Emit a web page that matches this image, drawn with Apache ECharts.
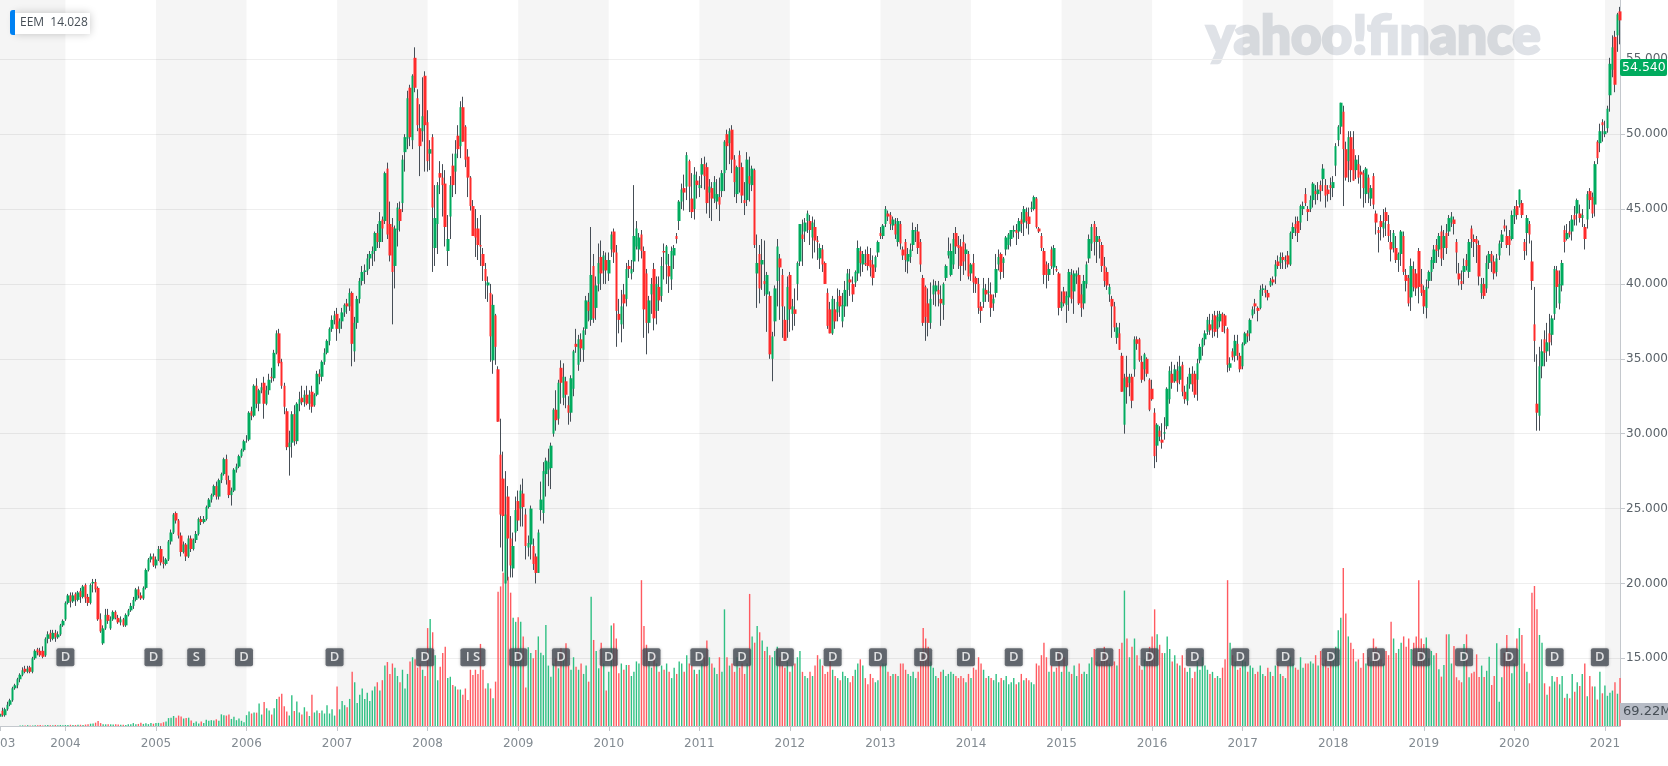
<!DOCTYPE html>
<html><head><meta charset="utf-8">
<style>html,body{margin:0;padding:0;background:#fff}#c{width:1668px;height:766px}</style>
<script src="https://cdn.jsdelivr.net/npm/echarts@6/dist/echarts.min.js"></script>
</head><body><div id="c"></div>
<script>
// rows: [open, high, low, close, volume in millions]
const y2003=[
[11.1,11.5,11,11.3,0],[11.5,11.7,11.1,11.2,0],[11.2,11.7,11.1,11.6,0],[11.6,12.1,11.5,11.9,0],[11.9,12.3,11.8,12.2,0],[12.2,13.1,12.1,13,0],
[13,13.3,12.9,13.2,0],[13.2,13.7,13,13.6,0],[13.6,14,13.4,13.9,3],[13.9,14.4,13.8,14.2,3],[14.3,14.5,14,14.1,3],[14.1,14.5,14,14.3,4],
[14.4,14.5,14,14.1,3],[14.1,15.1,14,15,3],[15,15.6,14.9,15.5,4],[15.6,15.7,15.2,15.4,4],[15.5,15.7,15.1,15.2,5],[15.5,15.8,15,15.1,3],
[15.2,16.4,15.1,16.3,4],[16.3,16.8,16,16.6,5],[16.7,16.9,16.1,16.3,4],[16.3,16.9,16.2,16.7,4],[16.7,16.9,16.1,16.4,5],[16.4,16.8,16.3,16.6,4],
[16.6,17.3,16.5,17.2,5],[17.2,17.6,17.1,17.5,4]];
const y2004=[
[17.6,18.8,17.5,18.7,5],[18.7,19.3,18.6,19.2,5],[19.2,19.4,18.4,18.8,6],[18.8,19.4,18.7,19.2,5],[19.3,19.4,18.5,18.9,5],[18.9,19.5,18.8,19.4,6],
[19.5,19.7,18.7,19.1,6],[19.1,19.9,19,19.8,5],[19.9,20,18.7,19,7],[19.1,19.3,18.5,18.7,8],[18.7,20,18.6,19.9,11],[20,20.3,19.4,20.1,12],
[20.1,20.3,19.4,19.6,16],[19.7,19.8,17.5,17.6,24],[17.6,18,16.7,16.8,14],[16,17.2,15.9,17,9],[17,18.3,16.9,17.9,8],[17.9,18.3,17.3,17.5,9],
[17,17.8,16.9,17.6,8],[17.6,18.2,17.5,18.1,7],[18.1,18.2,17.6,17.7,9],[17.7,17.9,17.3,17.4,7],[17.4,17.8,17.2,17.6,6],[17.6,17.7,17.1,17.2,6],
[17.2,18,17.1,17.9,5],[17.9,18.3,17.8,18.2,8],[18.2,18.7,18.1,18.5,9],[18.5,19.1,18.3,18.9,14],[18.9,19.7,18.8,19.6,8],[19.6,19.8,19,19.2,10],
[19.2,19.4,18.9,19,16],[19,19.8,18.9,19.7,10],[19.7,21,19.6,20.9,13],[20.9,21.7,20.8,21.6,9],[21.6,22,21.4,21.8,14],[21.8,22,21.1,21.2,11]];
const y2005=[
[21.2,21.8,21,21.6,14],[21.6,22.5,21.5,22.3,15],[22.3,22.5,21.2,21.4,13],[21.4,21.8,21,21.3,18],[21.3,21.7,21.2,21.6,22],[21.6,22.9,21.5,22.8,38],
[22.8,23.6,22.6,23.4,40],[23.4,24.7,23.3,24.6,48],[24.7,24.8,24,24.2,40],[24.2,24.3,23,23.2,50],[23.2,23.4,21.8,22.1,46],[22.1,22.8,22,22.6,36],
[22.6,22.7,21.5,21.8,38],[21.8,23.2,21.7,23,40],[23,23.2,22.1,22.3,26],[22.3,23,22.2,22.9,15],[22.9,23.5,22.7,23.3,22],[23.3,24.4,23.2,24.3,12],
[24.3,24.5,23.9,24.1,22],[24.1,24.5,24,24.3,14],[24.3,25.2,24.2,25.1,30],[25.1,25.7,25,25.6,25],[25.6,26,25.4,25.9,28],[25.9,26.6,25.8,26.5,26],
[26.5,26.8,25.6,25.8,32],[25.8,27,25.6,26.9,25],[26.9,27.4,26.7,27.3,56],[27.3,28.4,27.2,28.3,52],[28.3,28.6,26.6,26.9,50],[26.9,27.2,25.7,25.9,55],
[25.9,26.4,25.2,26.2,34],[26.2,27.7,26.1,27.6,44],[27.6,28,27.4,27.8,28],[27.8,28.6,27.7,28.5,36],[28.5,29,28.4,28.9,25],[28.9,29.6,28.8,29.5,18]];
const y2006=[
[29.6,29.9,29.4,29.6,52],[29.6,31.5,29.5,31.4,70],[31.5,31.8,30.9,31.2,60],[31.2,33.3,31.1,33.2,65],[33.2,33.7,31.7,32,64],[32,33,31.5,32.9,108],
[32.9,33.4,32.7,33.1,55],[33.4,33.8,31,32,115],[32,33.2,31.9,32.9,85],[32.9,34,32.6,33.6,75],[33.8,34.4,33.4,33.7,55],[33.7,35.6,33.5,35.4,85],
[35.4,36.9,35.3,36.7,130],[36.7,37,34.5,34.7,140],[34.8,35,33,33.2,155],[33.2,33.4,31.3,31.8,95],[31.5,31.7,28.9,29.1,70],[29.1,30.2,27.2,29.4,50],
[29.4,31.5,28.4,31.3,148],[31.3,31.9,29.2,29.5,72],[29.5,32.1,29.3,32,118],[32,32.8,31.5,32.3,65],[32.4,33.2,31.9,32.1,55],[32.1,32.9,31.8,32.6,90],
[32.6,33.2,31.9,32,70],[32,32.9,31.6,32.6,48],[32.8,33.2,31.4,31.8,150],[31.9,32.7,31.8,32.6,65],[32.6,34.2,32.5,34,75],[34,34.3,33.3,33.8,62],
[33.8,34.9,33.5,34.8,75],[34.8,35.7,34.6,35.4,60],[35.4,36.3,35.3,36.2,100],[36.2,37.1,35.9,37,60],[37,37.9,36.8,37.6,80],[37.6,38.2,37.3,37.9,50]];
const y2007=[
[38,38.4,36.2,37,190],[37,37.7,36.7,37.5,80],[37.5,38.4,37,38.1,120],[38.1,38.7,37.8,38.6,100],[38.7,39,38,38.5,90],[38.5,39.7,38.2,39.4,130],
[39.4,39.5,34.5,36,260],[35.5,37.8,34.8,37.4,210],[37.4,39.2,37,39,110],[39,40.4,38.7,40.2,150],[40.2,41.2,39.9,40.8,180],[40.8,41.3,40,40.9,130],
[40.9,42,40.6,41.7,160],[41.7,42.2,41,42,120],[42,42.5,41.2,42.2,170],[42.2,43.5,41.5,43.4,190],[43.4,44,42.4,42.8,210],[42.8,44.8,42.4,44.2,170],
[44.3,44.5,42.8,43.7,220],[44.2,47.5,44,47.4,290],[47.7,48.1,43,43.3,307],[44,45.5,41.5,41.9,250],[43.8,44.4,37.3,40.8,300],[41.2,43.9,39.7,43.7,280],
[43.6,45.4,42.5,45.1,240],[45,45.5,43.5,44.2,210],[45.4,48.6,44.8,48.3,270],[48.8,50,47.5,49.8,180],[49.7,52.9,49,52.4,250],[53.1,53.3,49.2,49.8,310],
[49.6,54,49,53.9,330],[55.1,55.8,52.8,53.1,320],[52.4,53,50.2,50.6,280],[50.4,52,47.2,49.2,300],[50.2,53.8,49.5,51.2,270],[53.9,54.2,47.5,50.6,240]];
const y2008=[
[50.8,51.6,47.5,48.2,470],[48.7,49.6,47.6,49,514],[49.8,50,40.8,45.1,450],[42.4,46.6,41.2,44.4,340],[44,46.8,42,46.6,220],[47.4,48.2,46,47.1,285],
[47.1,48,44.5,46.6,350],[46.7,47.6,42.5,43.8,380],[42.2,44.6,41.2,43,230],[44.5,47.2,43,46.6,236],[47.9,48.7,45.8,46.6,197],[47.5,49.6,46,48.7,190],
[49.9,50.6,48.4,49,175],[49.2,52.2,48.4,51.8,175],[51.8,52.5,49.5,49.5,150],[50.5,50.6,47.8,48.3,180],[48.5,49,45.8,47.1,125],[47.1,47.2,44.9,45.2,270],
[45.2,45.6,43.2,43.2,245],[43.7,45,41.8,43.1,270],[43.7,44.4,41.6,42.6,250],[42.6,44.6,41.2,42.5,394],[42,42.4,40.2,41.2,270],[41,41.4,39,40.2,180],
[39.9,40.5,38.8,40.1,205],[39.4,40,34.8,36.5,180],[34.9,39.3,34,38.6,133],[37.9,38,34.6,35.8,213],[34.3,34.5,30.8,30.8,645],[28.6,31,22.4,24.6,670],
[27,28.8,20.8,24.5,736],[20,27.5,20,24.6,700],[25.8,26.5,20.2,23,716],[23,24.5,20.4,21.2,640],[21,23.4,20.4,22.5,520],[23.4,25.8,22.8,24.9,500]];
const y2009=[
[25.5,26.2,23.5,24.2,522],[25,26.6,23.8,26.2,500],[26,27,23.8,25.1,430],[24.6,25,21.6,22.5,185],[22.4,23.2,21.8,22.7,378],[22.6,25.2,21.6,25,350],
[22.5,23,20.9,21.3,325],[21.8,22,20,20.7,365],[20.7,23.6,20.7,23.4,430],[24.9,26.8,24.2,25.6,352],[24.7,28.1,24,27.5,340],[27.3,28.4,25.8,28.2,485],
[27.6,29,26.5,28.1,290],[27.7,29.4,26.3,29.2,237],[30,31.7,29.8,31.6,300],[31.6,32.9,30.2,30.9,325],[31,33.6,30.6,33.4,277],[34.4,34.9,32,33.4,373],
[32.4,34.7,31.9,33.8,333],[33.5,33.8,31.7,32.6,397],[31.9,32.5,30.6,31.4,290],[31.4,33.9,30.8,33.7,270],[33,35.6,32.5,35.5,330],[36,37,35.4,35.8,285],
[34.6,36.6,34.2,36.3,270],[36.3,36.7,34.8,35.7,300],[35.6,37.1,34.8,36.9,250],[37,39.2,36.6,38.9,290],[38.8,39.4,37.5,38.2,213],[37.6,43.8,37.2,40.6,620],
[41.2,42,37.4,37.7,413],[38.4,40.5,37.6,39.9,360],[40,42.7,39.5,41.4,277],[41.8,42.9,39.6,40.7,400],[40.9,42.2,40,41.9,300],[41.6,42.1,40,40.9,170]];
const y2010=[
[40.7,42.1,40.2,41.6,260],[42.3,43.5,41.8,43.3,482],[43.5,43.7,41.4,42.1,493],[42.1,42.6,35.8,38.2,420],[38,39,36.7,37.6,253],[37.3,39.6,36.1,38.5,300],
[39.3,40,37,38.7,270],[39,41.4,38.5,41,293],[41.2,41.6,40.4,41,293],[40.7,41.6,40.3,41,240],[41.5,46.6,40.8,43.2,260],[42.5,44.2,42.3,43.7,310],
[42.3,43.4,41.5,43.1,300],[43.3,43.6,41.7,42.2,700],[42.2,42.5,36.4,38.3,480],[40.7,41,35.3,37.4,390],[37.4,39.2,36.7,38.9,340],[39.3,40.4,38,40,280],
[41,41.4,36.9,37.7,350],[38.2,40.5,37.3,40,300],[39.8,40.5,38.2,38.9,260],[39.2,41.8,38.8,41.2,290],[42.2,42.7,40.3,42.1,270],[41.3,42.6,40,42.5,300],
[41.2,42,39.4,40.5,260],[40.3,42.5,39.6,42.2,230],[41.9,42.6,41,42.4,280],[43.2,43.4,42.7,43,250],[44.2,45.6,43.6,45.5,310],[45.5,46.7,45,46.3,300],
[46.4,47.3,44.9,46.1,260],[46.5,48.8,45.6,48.6,340],[48.2,48.3,44.8,46.5,300],[45.7,47.4,44.4,44.8,290],[45,47.8,44.3,47.3,270],[46.9,47.5,45.7,46.6,250]];
const y2011=[
[46.4,47.2,45.8,46.6,270],[47.3,48.4,46.4,48,300],[48,48.5,46.3,47.2,330],[47.8,48.1,44.7,45.4,410],[46.1,47,44.4,46.5,330],[46.4,46.8,44.2,45.7,300],
[45.7,47.2,45.4,46.8,280],[45.5,47,45,46,250],[45.8,47.1,44.2,45.3,330],[46.2,47.6,45.8,47.4,260],[47.4,49.6,46.2,49.5,560],[50,50.3,47.6,49.2,330],
[49.4,50.4,48,50.2,290],[50.3,50.6,47.4,48.3,300],[48.3,48.6,45.8,46.8,260],[46,47.9,45.4,47.8,330],[48.6,48.9,46.1,47.8,280],[47.8,48.1,45.4,45.9,300],
[45.6,46.8,44.6,45.4,250],[45.6,48.8,45.2,48.3,300],[47.2,48.5,45.5,46.7,634],[46.6,47.9,46.2,47.7,430],[47.6,47.7,42.4,42.6,400],[40.7,43.3,38.4,41.4,480],
[42,42.6,38.7,39.7,450],[41.3,43,39.6,41.6,410],[40.2,42.9,39.2,40,360],[39.3,40.8,36.8,40.6,380],[39.2,39.5,35,35.3,340],[35,36.8,33.5,36.5,330],
[37.5,39.9,36.5,39.7,360],[40.2,43,38.5,42.5,380],[41.7,42,37.6,41.1,330],[40.6,41,36.4,38.5,290],[37.6,38.5,36.2,36.2,280],[37.6,40.5,36.4,39.8,310]];
const y2012=[
[40.6,40.8,36.8,38.3,260],[38,39,36.9,38.5,290],[38.3,39.7,37.2,38,300],[40,41.5,38.9,41.4,330],[41.5,44,41.2,44,360],[43.3,44.3,41.2,43,260],
[43.5,44.4,42.8,44.1,240],[44.2,44.9,43.4,44.7,230],[44.2,44.6,42.6,43.6,260],[43.1,44.5,41.7,44.1,240],[43.8,44.3,42.1,42.9,290],[42.9,43.2,41.6,42.8,340],
[41.7,42.7,41,42.4,320],[42.3,42.6,40.8,41.3,290],[41.4,41.5,40,40,250],[39.4,39.7,37,37.2,260],[38.3,38.8,36.7,36.7,310],[36.7,39.2,36.6,39,270],
[38.3,39,37,37.5,240],[38.1,39.7,37.5,38.8,230],[39.2,39.6,37.8,38.5,220],[37.5,39.4,37.1,38.6,260],[38.5,40.2,37.8,39.6,240],[39.6,41,38.5,40.7,230],
[40.3,41,39.2,40.1,210],[40,40.5,38.8,39.3,240],[40.1,40.9,39.8,40.8,270],[40.7,42.9,40.2,42.4,300],[42.2,42.5,40.5,41.4,320],[41.3,42.2,40.8,42,290],
[41.4,42.3,41.2,41.3,230],[42,42.5,40.9,41.2,200],[41.6,42.4,40.5,41.1,250],[41.3,41.9,39.9,40.4,230],[41.1,41.9,40.8,41.8,210],[42.1,42.9,41.8,42.8,220]];
const y2013=[
[43.4,43.8,43,43.2,290],[43.2,44,43,43.9,300],[44,45.2,43.8,45,300],[44.7,44.9,44.2,44.5,260],[44.6,44.8,43.6,44,240],[43.9,44.5,43.6,44.3,250],
[44,44.4,43,43.3,250],[42.8,44.4,42.5,44.2,240],[44,44.2,42.3,42.7,300],[42.3,42.5,41.6,41.9,300],[42.8,43,40.8,41.6,270],[41.5,42.4,40.7,42,250],
[41.8,42.7,41.4,42.3,240],[42.6,44.1,42.2,43.6,260],[43.5,43.8,42.8,43.6,230],[43.5,44,42,42.4,260],[42.8,43,40.8,41.3,340],[40.4,40.6,37.2,37.4,470],
[39.8,39.9,36.2,37.8,420],[38.7,39.7,36.5,37.4,380],[37.4,40.1,37,39,310],[39.3,40.3,38.6,39.9,280],[39.5,40.2,38.5,39.9,240],[39.6,40.2,38.5,39.3,230],
[39,39.9,37.2,38.7,260],[38.6,40.1,37.6,40,270],[40.4,41.3,40.2,41.2,240],[41.9,43.1,41.7,42.2,250],[40.6,42.7,40.5,42.2,260],[41.3,43.4,41,43,250],
[43.4,43.8,42,42.5,240],[42.6,43.2,41,42.4,230],[42.5,43,40.2,41.2,240],[42.8,43.3,40.6,41.5,230],[42,42.7,40.9,42.3,210],[42,42.2,40.3,40.5,250]];
const y2014=[
[40.7,41.4,40.2,41.3,230],[41.4,42,39.4,40.1,280],[40.4,40.5,39.4,40,270],[40,40.4,38,38.4,330],[38.5,38.8,37.4,38.2,300],[38.8,40.4,38.4,39.7,270],
[39.6,40,38.8,39.3,230],[39.4,40.4,38.8,39.5,240],[39.3,40.1,37.8,38.4,230],[38.7,39.3,38.2,39,220],[39.4,42,39.1,41,250],[41.3,42.3,40.9,41.8,210],
[42,42.1,40.3,40.8,230],[41.4,41.8,40.4,41.7,220],[42.3,43.2,41.9,43.1,240],[42.6,43.4,42.3,43.3,200],[43,43.6,42.5,43.6,210],[43.5,43.9,43.1,43.6,230],
[43.6,44,42.6,43.4,200],[43.5,44.4,43,44.2,210],[44.3,44.8,43.4,44,250],[44.1,45.2,43.2,45,220],[44.8,45.1,43.7,44.2,230],[44.5,45.1,43.3,44,220],
[45,45.5,44.8,45.1,210],[45,45.9,44.9,45.8,200],[45.7,45.8,43.7,43.8,300],[43.7,43.8,43.4,43.5,290],[43.2,43.4,42.2,42.4,340],[42.2,42.4,40,40.6,400],
[41.3,41.5,39.7,40.6,330],[40.6,41.4,40.2,41,260],[42.3,42.5,41,41.2,290],[41.1,42.6,40.6,42.4,260],[41,41.2,40.8,40.9,280],[40.7,40.8,37.9,38.4,360]];
const y2015=[
[38.4,39.5,38.2,38.8,260],[39.5,39.8,38.5,38.7,330],[38.6,39.5,37.4,39.2,290],[39.1,41,38.2,40.8,260],[40.6,41,38.7,39,250],[39.5,40.9,38,40.7,290],
[40.5,40.9,40,40.7,240],[40.6,41.1,38.6,38.7,300],[39.3,40,37.8,38.4,250],[38.7,40.6,38.3,40.2,260],[40,41.5,39.7,41.3,250],[41.7,43.3,41.4,43,300],
[42.7,44,42.2,43.8,330],[44,44.2,41.9,42.8,370],[42.8,43.8,41.4,43.2,310],[43,43.2,41.7,42.8,300],[42.6,42.8,40.8,41.2,330],[41.2,41.8,39.8,40.2,380],
[40.8,41.1,39.6,39.9,340],[39.3,40,38.8,39.8,300],[39,39.2,36.4,38.5,290],[38.5,38.8,36.8,37.1,310],[36.4,37.4,36,37.1,290],[36.7,37.4,35.6,35.6,370],
[35.2,35.4,32.8,32.8,400],[30.6,34,30,33.7,650],[33.8,35.2,32,33.1,420],[33.4,34,32.5,33.8,330],[33.8,34,31.7,32.2,380],[34.3,36.5,33.8,36.3,420],
[36.3,36.5,35.6,36,340],[36.3,36.4,34.8,34.9,290],[34.8,35.2,33.4,33.6,270],[34.3,35.4,33.5,35.3,320],[35,35.1,33.8,34,310],[33.6,33.7,31.5,31.6,380]];
const y2016=[
[33,33.6,32.2,32.3,430],[31.4,31.7,27.7,28.5,560],[29.2,30.7,28.1,30.6,440],[30.2,30.5,29.5,29.8,390],[29.6,30.7,29,29.4,350],[30,31.1,29.6,30.1,350],
[30.5,33.1,30.3,33,430],[32.3,34.5,32,34.2,370],[34,34.8,33,33.4,310],[33.5,34.6,33.4,34.3,340],[34.2,34.8,32.8,33.4,300],[33.6,35.2,33.3,34.5,290],
[34.6,34.8,32.5,32.8,340],[32.8,33.2,32,32.3,280],[32.2,33.8,31.9,33.3,260],[33.3,34.4,33,34,280],[34,34.5,32.8,33.3,230],[34,34.2,32.4,32.6,260],
[33.6,35,32.2,34.7,310],[34.9,36,34.7,35.8,270],[35.8,36.4,35.2,36.3,330],[36.3,36.9,35.9,36.7,290],[36.8,37.8,36.6,37.6,270],[37.3,38,36.6,36.9,250],
[37,38,36.4,37.6,260],[37.9,38.2,36.5,36.8,230],[37,38.2,36.4,37.8,240],[37.5,38.2,37.1,38,230],[38,38.1,36.8,36.8,280],[37.9,38,36.7,37.2,320],
[37,37.1,34.1,34.6,700],[34.4,35.1,34.2,34.7,400],[35.5,35.7,34.9,35.1,340],[35.2,36.6,34.8,36.2,310],[36,36.6,34.9,35.2,270],[35.2,35.4,34.1,34.3,280]];
const y2017=[
[34.5,36.1,34.3,36,320],[36,36.8,35.9,36.7,310],[36.7,36.9,36.1,36.5,260],[36.7,37.7,36.2,37.6,290],[37.9,38.5,37.7,38.3,280],[38.7,39,38,38.5,250],
[38.4,38.5,37.5,38.2,260],[38.4,39.9,38.3,39.6,290],[39.6,40,39.2,39.7,250],[39.6,39.9,39.1,39.4,240],[39.4,39.6,38.9,39.1,280],[39.9,40.4,39.8,40.2,260],
[40.3,40.5,39.9,40.1,240],[40.5,41.6,40,41.3,290],[41.5,41.9,41,41.2,310],[41.4,42.1,41,41.8,250],[41.8,42.1,41,41.6,240],[41.5,41.9,41,41.6,230],
[41.9,42.2,41.1,41.3,290],[41.3,43.5,41.2,43.4,330],[43.4,44.1,43,43.8,300],[44,44.5,43.2,43.7,280],[44.2,44.5,42.8,43.4,270],[44.1,45.3,43.6,45.2,330],
[45,45.5,44.6,45.2,280],[46,46.4,45.2,45.4,300],[45,45.2,44.2,44.8,300],[45,45.9,44.8,45.6,310],[45.6,46.8,45.1,46.7,300],[46.2,46.6,45.3,46,340],
[46,46.8,45.6,46.3,290],[46.6,46.9,45.5,46.2,360],[47,48,46.2,47.7,300],[46.6,47,45.1,45.9,320],[46.3,46.6,45.5,46,280],[46.6,47.1,45.6,46.4,310]];
const y2018=[
[46.4,47.2,45.8,46.8,320],[47.9,49.4,47.2,49.2,380],[49.6,50.6,49.2,50.5,460],[50.5,52.1,50,52.1,520],[51.5,51.9,45.2,49,758],[49,49.5,46.9,47.1,540],
[48.2,50.2,46.8,49.8,430],[49.8,50.2,46.8,47.6,400],[49,50.2,46.9,46.9,370],[47.6,48.6,47,48.3,310],[48,48.6,46.7,47.1,320],[47.5,47.9,45.7,47.3,280],
[47.4,47.6,45.1,46.4,350],[46,47.8,45.4,47.7,300],[47.1,47.3,45.4,46.1,330],[45.7,46.6,45.2,46.4,310],[47.2,47.4,45,45.3,420],[44.7,44.9,43.3,44.1,380],
[43.6,43.8,42.1,43.4,360],[44.2,44.6,42.9,43.8,320],[43.7,45,43.1,44.1,300],[44.8,45.1,43.2,44.2,360],[44,44.6,42.8,43.2,340],[42.8,43.6,41.5,42.3,500],
[42.4,43.6,42.1,43.4,420],[42.4,43.2,41.4,41.6,350],[41.6,42.1,40.8,42,370],[42,43.6,41.2,43.5,400],[43.2,43.5,40.6,40.8,430],[40.6,41,39.5,40.2,380],
[40.4,40.6,38.5,38.7,420],[39.1,41.7,38.2,41.2,370],[41,41.5,39.5,39.8,400],[40.7,41,39.2,39.7,430],[42.2,42.4,38.7,39.8,700],[40,41,39.2,39.4,420]];
const y2019=[
[39.6,39.9,38,38.5,394],[38.4,40.3,37.7,39.8,425],[40.2,40.9,39.7,40.8,325],[40.8,41.8,40.2,41.6,360],[41.4,42.6,41,42.3,340],[42.6,43,41.4,42.2,350],
[42.3,43.4,41.8,43.2,272],[43.5,43.9,41.2,41.7,237],[42.4,43.6,41.6,43.2,293],[43.4,44,42,42.4,440],[43.5,44.6,43.2,44.4,440],[44.1,44.8,43.8,44.5,300],
[44.3,44.5,43.3,44,384],[42.8,43,40.7,42.1,234],[40.7,41.4,39.9,40.3,220],[40.2,40.9,39.6,40,210],[40.8,41.7,40,41.2,394],[41.6,42,40.9,41.2,440],
[40.8,43,40.4,42.8,234],[43.7,43.9,42.4,43,253],[43,43.3,41.8,42.8,260],[43,43.2,41.4,42.7,344],[42.6,42.9,39.9,40.5,235],[39.4,40.4,39,40,290],
[40,40.4,39,39.2,235],[39.7,41.9,39.4,41.4,265],[41.4,42.2,41,42,333],[42,42.2,40.8,41.5,197],[41.5,41.9,40.3,40.7,240],[40.8,42,40.5,41.7,397],
[41.9,42.9,41.6,42.7,117],[42.8,43.6,42.4,43.3,234],[43.9,44.3,43.5,43.7,350],[43.2,43.9,42.4,42.6,437],[43.2,43.6,41.9,42.6,340],[43,44.9,42.9,44.6,253]];
const y2020=[
[44.5,45.2,44,45,300],[45.2,45.6,44.3,44.6,420],[45.3,46.3,45.1,46.3,470],[45.4,45.6,44.4,44.6,437],[42.8,43,41.6,42.2,300],[43.4,44.6,41.9,44.4,260],
[44,44.2,42.7,43.3,205],[41.5,42.9,39.6,40.2,640],[37.3,39.8,34.8,36.2,672],[32,35.3,30.2,31.4,560],[31.2,35.8,30.2,34.5,437],[34.5,36.3,33.7,35.5,400],
[36.3,36.9,34.5,35.4,205],[35.5,37.4,34.8,36.1,150],[36.7,38,35.2,36.1,190],[36.6,37.9,35.9,37.7,240],[38,41.2,37.6,41,213],[40.9,41.2,38.4,39.8,235],
[38.7,40.9,38.3,40,200],[39.9,41.6,39.5,41.4,240],[43.6,43.9,42.1,42.8,135],[43,44,42.9,43.4,155],[43.5,44.2,43.1,43.3,133],[43.5,44.6,42.9,44.3,250],
[44.6,45.2,43.9,44.3,165],[44.7,45.7,43.9,45.6,210],[44.7,45.3,44.1,44.4,192],[44.4,45,43.8,44.6,250],[43.8,44,42.3,43,300],[44.3,46.2,43.7,46,143],
[46.2,46.4,45,45.6,240],[45.8,46.1,44.4,44.7,190],[45.3,48.2,44.5,48,190],[49.5,49.6,48,48.4,127],[49.4,50.7,48.8,50.2,260],[50.8,51,49.5,50.6,157]];
const y2021=[
[50,50.9,49.8,50.2,195],[50.4,51.9,50.1,51.7,145],[52.6,55.1,51.5,54.7,160],[54.3,56.6,53.8,55.8,170],[56.5,56.9,52.8,53.3,210],[56.6,58.1,55.5,58,155],[58.2,58.5,56,57.6,230]];

const yearRows=[y2003,y2004,y2005,y2006,y2007,y2008,y2009,y2010,y2011,y2012,y2013,y2014,y2015,y2016,y2017,y2018,y2019,y2020,y2021];
const yearNames=[2003,2004,2005,2006,2007,2008,2009,2010,2011,2012,2013,2014,2015,2016,2017,2018,2019,2020,2021];
const priceTicks=[15,20,25,30,35,40,45,50,55];
const lastPrice=54.54, lastVolume=69.22, firstClose='EEM  14.028';
// corporate-action flags: [bar index, letter]
const eventFlags=[[26,'D'],[61,'D'],[78,'S'],[97,'D'],[133,'D'],[169,'D'],[188,'I S'],[206,'D'],[223,'D'],[242,'D'],[259,'D'],[278,'D'],[295,'D'],[312,'D'],[331,'D'],[349,'D'],[367,'D'],[384,'D'],[403,'D'],[421,'D'],[439,'D'],[457,'D'],[475,'D'],[493,'D'],[511,'D'],[529,'D'],[547,'D'],[565,'D'],[582,'D'],[600,'D'],[618,'D'],[636,'D']];

const cats=[],rows=[],bands=[];
yearRows.forEach((r,k)=>{r.forEach((b,j)=>{cats.push(yearNames[k]+'-'+j);rows.push(b);});});
let start=0;
yearRows.forEach((r,k)=>{
  if(yearNames[k]%2===1){const end=Math.min(start+r.length,cats.length-1);bands.push([{xAxis:cats[start]},{xAxis:cats[end]}]);}
  start+=r.length;
});
const UP='#00ab5e',DOWN='#ff2b2b',WICK='#464e56',VUP='#2fc083',VDOWN='#ff5a60';
const isYearStart=(i,v)=>String(v).endsWith('-0');
const flagShape='path://M2 0H16A2 2 0 0 1 18 2V16A2 2 0 0 1 16 18H2A2 2 0 0 1 0 16V2A2 2 0 0 1 2 0Z';

const chart=echarts.init(document.getElementById('c'),null,{renderer:'canvas',width:1668,height:766});
chart.setOption({
  animation:false,
  backgroundColor:'#fff',
  grid:{left:0,right:48,top:0,bottom:40,containLabel:false,outerBoundsMode:'none'},
  xAxis:{type:'category',data:cats,boundaryGap:false,
    axisLine:{lineStyle:{color:'#c4c8cd',width:1}},
    axisTick:{show:true,length:5,interval:isYearStart,lineStyle:{color:'#c4c8cd'}},
    axisLabel:{interval:isYearStart,formatter:v=>v.split('-')[0],color:'#828a91',fontSize:12,fontFamily:'DejaVu Sans',margin:12,showMinLabel:true},
    splitLine:{show:false}},
  yAxis:[
    {type:'value',position:'right',min:10.48,max:58.96,
     axisLine:{show:true,lineStyle:{color:'#c4c8cd',width:1}},
     axisTick:{show:true,length:5,customValues:priceTicks,lineStyle:{color:'#c4c8cd'}},
     axisLabel:{customValues:priceTicks,formatter:v=>v.toFixed(3),color:'#5b636a',fontSize:12,fontFamily:'DejaVu Sans',margin:6},
     splitLine:{show:true,lineStyle:{color:'#eeeeee',width:1}}},
    {type:'value',min:0,max:3485,show:false,splitLine:{show:false}}
  ],
  graphic:[
    {type:'text',z:0,zlevel:0,silent:true,left:1205,top:9,style:{text:'yahoo!finance',fill:'#dfe2e7',stroke:'#dfe2e7',lineWidth:2.5,font:'900 53px Lato'}},
    {type:'rect',z:100,left:15,top:13,shape:{width:75,height:21},style:{fill:'#fff',shadowBlur:8,shadowColor:'rgba(0,0,0,0.22)'}},
    {type:'rect',z:101,left:10,top:10,shape:{width:5,height:25,r:[3,0,0,3]},style:{fill:'#0081f2'}},
    {type:'text',z:102,left:20,top:17,style:{text:firstClose,fill:'#464e56',font:'12px "Open Sans"'}},
    {type:'rect',z:100,left:1620,top:703,shape:{width:48,height:17},style:{fill:'#b7bcc6'}},
    {type:'text',z:101,left:1623,top:705,style:{text:lastVolume+'M',fill:'#464e56',font:'13px "DejaVu Sans"'}},
    {type:'rect',z:100,left:1620,top:59,shape:{width:47,height:17,r:2},style:{fill:'#00ab5e'}},
    {type:'text',z:101,left:1622,top:61,style:{text:lastPrice.toFixed(3),fill:'#fff',font:'12.5px "DejaVu Sans"'}}
  ],
  series:[
    {name:'Volume',type:'bar',xAxisIndex:0,yAxisIndex:1,barWidth:1.4,z:2,large:false,progressive:0,
     data:rows.map(b=>({value:b[4],itemStyle:{color:b[3]>=b[0]?VUP:VDOWN}}))},
    {name:'EEM range',type:'candlestick',z:3,barWidth:1,large:false,progressive:0,
     data:rows.map(b=>[b[0],b[3],b[2],b[1]]),
     itemStyle:{color:WICK,color0:WICK,borderColor:WICK,borderColor0:WICK,borderWidth:1},
     markArea:{silent:true,itemStyle:{color:'rgba(0,0,0,0.04)'},data:bands}},
    {name:'EEM',type:'candlestick',z:4,barWidth:3,large:false,progressive:0,
     data:rows.map(b=>[b[0],b[3],Math.min(b[0],b[3]),Math.max(b[0],b[3])]),
     itemStyle:{color:UP,color0:DOWN,borderColor:UP,borderColor0:DOWN,borderWidth:0}},
    {name:'Flags',type:'scatter',z:6,
     data:eventFlags.map(f=>({value:[cats[f[0]],15.07],symbolSize:f[1].length>1?[25,18]:[18,18],label:{formatter:f[1]}})),
     symbol:flagShape,
     itemStyle:{color:'#484f58',shadowBlur:3,shadowColor:'rgba(0,0,0,0.3)'},
     label:{show:true,position:'inside',color:'#fff',fontSize:13,fontFamily:'Open Sans',fontWeight:600}}
  ]
});
</script></body></html>
